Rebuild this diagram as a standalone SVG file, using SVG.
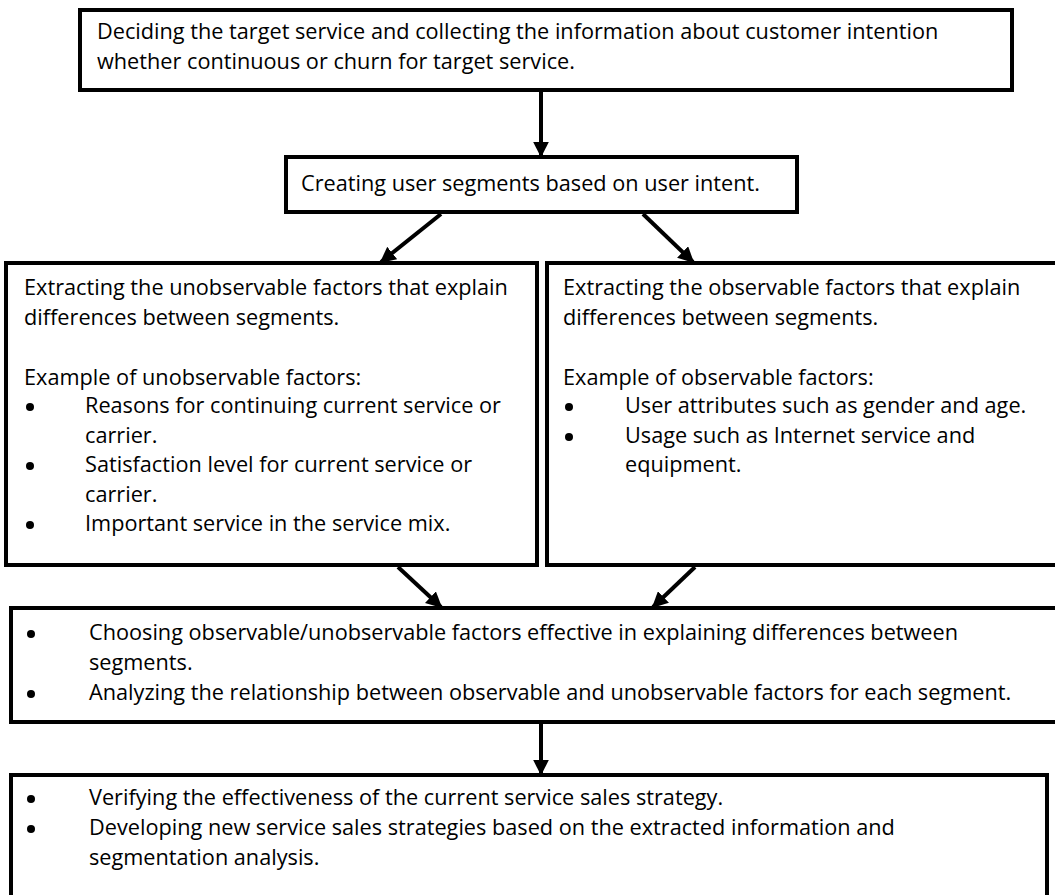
<svg xmlns="http://www.w3.org/2000/svg" width="1055" height="895" viewBox="0 0 1055 895">
<defs>
<style>
.box{fill:#fff;stroke:#000;stroke-width:4}
.t{font-family:"Open Sans","Liberation Sans",Arial,sans-serif;font-size:21.7px;fill:#000}
.b{fill:#000}
.c{stroke:#000;stroke-width:4;fill:none}
</style>
<marker id="ah" viewBox="0 0 10 10" refX="9" refY="5" markerWidth="4" markerHeight="4" orient="auto" markerUnits="strokeWidth">
<path d="M0,0 L10,5 L0,10 z" fill="#000"/>
</marker>
</defs>
<rect width="1055" height="895" fill="#fff"/>
<g id="n1">
<rect class="box" x="80" y="10" width="932" height="80"/>
<text class="t" x="97" y="39">Deciding the target service and collecting the information about customer intention</text>
<text class="t" x="97" y="69">whether continuous or churn for target service.</text>
</g>
<g id="n2">
<rect class="box" x="286" y="157" width="511" height="55"/>
<text class="t" x="301" y="191">Creating user segments based on user intent.</text>
</g>
<g id="n3">
<rect class="box" x="6" y="263" width="531" height="302"/>
<text class="t" x="24" y="295">Extracting the unobservable factors that explain</text>
<text class="t" x="24" y="325">differences between segments.</text>
<text class="t" x="24" y="385">Example of unobservable factors:</text>
<circle class="b" cx="30" cy="407" r="4"/>
<text class="t" x="85" y="413">Reasons for continuing current service or</text>
<text class="t" x="85" y="443">carrier.</text>
<circle class="b" cx="30" cy="466" r="4"/>
<text class="t" x="85" y="472">Satisfaction level for current service or</text>
<text class="t" x="85" y="502">carrier.</text>
<circle class="b" cx="30" cy="525" r="4"/>
<text class="t" x="85" y="531">Important service in the service mix.</text>
</g>
<g id="n4">
<rect class="box" x="547" y="263" width="520" height="302"/>
<text class="t" x="563" y="295">Extracting the observable factors that explain</text>
<text class="t" x="563" y="325">differences between segments.</text>
<text class="t" x="563" y="385">Example of observable factors:</text>
<circle class="b" cx="569" cy="407" r="4"/>
<text class="t" x="625" y="413">User attributes such as gender and age.</text>
<circle class="b" cx="569" cy="437" r="4"/>
<text class="t" x="625" y="443">Usage such as Internet service and</text>
<text class="t" x="625" y="472">equipment.</text>
</g>
<g id="n5">
<rect class="box" x="11" y="608" width="1055" height="114"/>
<circle class="b" cx="31" cy="634" r="4"/>
<text class="t" x="89" y="640">Choosing observable/unobservable factors effective in explaining differences between</text>
<text class="t" x="89" y="670">segments.</text>
<circle class="b" cx="31" cy="694" r="4"/>
<text class="t" x="89" y="700">Analyzing the relationship between observable and unobservable factors for each segment.</text>
</g>
<g id="n6">
<rect class="box" x="11" y="775" width="1036" height="137"/>
<circle class="b" cx="31" cy="799" r="4"/>
<text class="t" x="89" y="805">Verifying the effectiveness of the current service sales strategy.</text>
<circle class="b" cx="31" cy="829" r="4"/>
<text class="t" x="89" y="835">Developing new service sales strategies based on the extracted information and</text>
<text class="t" x="89" y="865">segmentation analysis.</text>
</g>
<g id="connectors">
<line class="c" x1="541" y1="92" x2="541" y2="156" marker-end="url(#ah)"/>
<line class="c" x1="441" y1="214" x2="381" y2="262" marker-end="url(#ah)"/>
<line class="c" x1="643" y1="214" x2="693" y2="262" marker-end="url(#ah)"/>
<line class="c" x1="398" y1="567" x2="441" y2="607" marker-end="url(#ah)"/>
<line class="c" x1="695" y1="567" x2="653" y2="607" marker-end="url(#ah)"/>
<line class="c" x1="541" y1="724" x2="541" y2="774" marker-end="url(#ah)"/>
</g>
</svg>
